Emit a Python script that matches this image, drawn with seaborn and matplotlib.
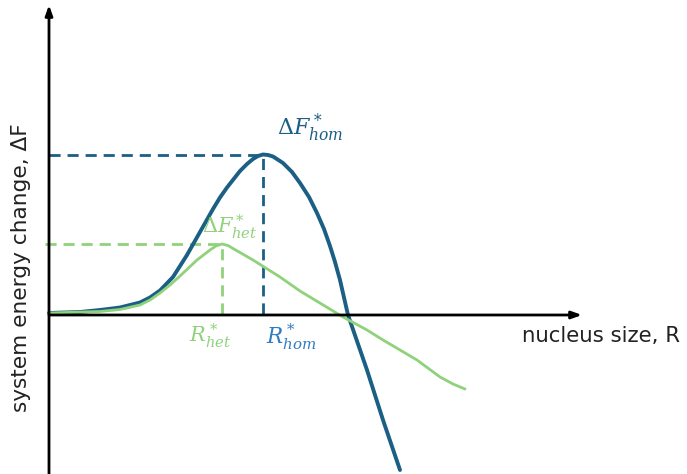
import matplotlib
matplotlib.use("Agg")
import matplotlib.pyplot as plt
import seaborn as sns
import pandas as pd

sns.set_theme(style="white")
plt.rcParams["font.family"] = ["DejaVu Sans"]
plt.rcParams["mathtext.fontset"] = "dejavuserif"

# Homogeneous nucleation free-energy curve
r_hom = [0.0, 0.62, 1.02, 1.42, 1.82, 2.02, 2.22, 2.48, 2.76, 3.02, 3.28, 3.42, 3.56,
         3.82, 3.96, 4.08, 4.18, 4.28, 4.38, 4.48, 4.68, 4.86, 5.02, 5.2, 5.36, 5.5,
         5.62, 5.72, 5.82, 5.98, 6.36, 6.68, 7.02]
f_hom = [0.02, 0.04, 0.08, 0.13, 0.23, 0.33, 0.47, 0.74, 1.18, 1.64, 2.1, 2.33, 2.53,
         2.86, 3.0, 3.1, 3.16, 3.19, 3.18, 3.15, 3.02, 2.84, 2.62, 2.34, 2.02, 1.7,
         1.36, 1.04, 0.68, -0.02, -1.12, -2.12, -3.12]

# Heterogeneous nucleation free-energy curve
r_het = [0.0, 1.02, 1.42, 1.82, 2.02, 2.22, 2.42, 2.62, 2.96, 3.22, 3.34, 3.46, 3.58,
         3.68, 4.08, 4.62, 5.02, 5.88, 6.36, 6.68, 7.02, 7.36, 7.82, 8.08, 8.32]
f_het = [0.02, 0.05, 0.09, 0.18, 0.28, 0.42, 0.58, 0.76, 1.08, 1.28, 1.36, 1.4, 1.37,
         1.31, 1.08, 0.74, 0.46, -0.06, -0.32, -0.52, -0.72, -0.92, -1.26, -1.4, -1.5]

# Critical radii and barrier heights
r_crit = {"hom": 4.28, "het": 3.46}
f_crit = {"hom": 3.19, "het": 1.4}

blue = "#1b5f84"
blue_lbl = "#2f7cc0"
green = "#8fd27b"

hom = pd.DataFrame({"R": r_hom, "F": f_hom})
het = pd.DataFrame({"R": r_het, "F": f_het})

fig = plt.figure(figsize=(6.87, 4.74), dpi=100)
ax = fig.add_axes([0, 0, 1, 1])
ax.set_xlim(-0.98, 12.76)
ax.set_ylim(-3.2, 6.28)
ax.axis("off")

# Axes drawn as arrows
ax.annotate("", xy=(0, 6.18), xytext=(0, -3.3),
            arrowprops=dict(arrowstyle="-|>,head_length=0.5,head_width=0.18",
                            color="black", lw=2, shrinkA=0, shrinkB=0))
ax.annotate("", xy=(10.66, -0.02), xytext=(0, -0.02),
            arrowprops=dict(arrowstyle="-|>,head_length=0.5,head_width=0.18",
                            color="black", lw=2, shrinkA=0, shrinkB=0))

# Guide lines to the maxima
dash = (0, (4, 2.5))
ax.plot([0, r_crit["hom"]], [f_crit["hom"]] * 2, ls=dash, color=blue, lw=2)
ax.plot([r_crit["hom"]] * 2, [0, f_crit["hom"]], ls=dash, color=blue, lw=2)
ax.plot([-0.08, r_crit["het"]], [f_crit["het"]] * 2, ls=dash, color=green, lw=2)
ax.plot([r_crit["het"]] * 2, [0, f_crit["het"]], ls=dash, color=green, lw=2)

sns.lineplot(data=hom, x="R", y="F", sort=False, color=blue, lw=2.8, ax=ax)
sns.lineplot(data=het, x="R", y="F", sort=False, color=green, lw=2, ax=ax)

ax.text(r_crit["hom"] + 0.28, f_crit["hom"] + 0.2, r"$\Delta F^*_{hom}$",
        color=blue, fontsize=16, ha="left", va="bottom")
ax.text(r_crit["het"] - 0.4, f_crit["het"] + 0.06, r"$\Delta F^*_{het}$",
        color=green, fontsize=15, ha="left", va="bottom")
ax.text(r_crit["hom"] + 0.56, -0.16, r"$R^*_{hom}$",
        color=blue_lbl, fontsize=15.5, ha="center", va="top")
ax.text(r_crit["het"] - 0.24, -0.14, r"$R^*_{het}$",
        color=green, fontsize=15, ha="center", va="top")

ax.text(9.46, -0.43, "nucleus size, R", fontsize=15.3, color="#222222",
        ha="left", va="center")
ax.text(-0.56, 0.92, "system energy change, ΔF", fontsize=15.6, color="#222222",
        rotation=90, ha="center", va="center")

fig.savefig("out.png", dpi=100)
